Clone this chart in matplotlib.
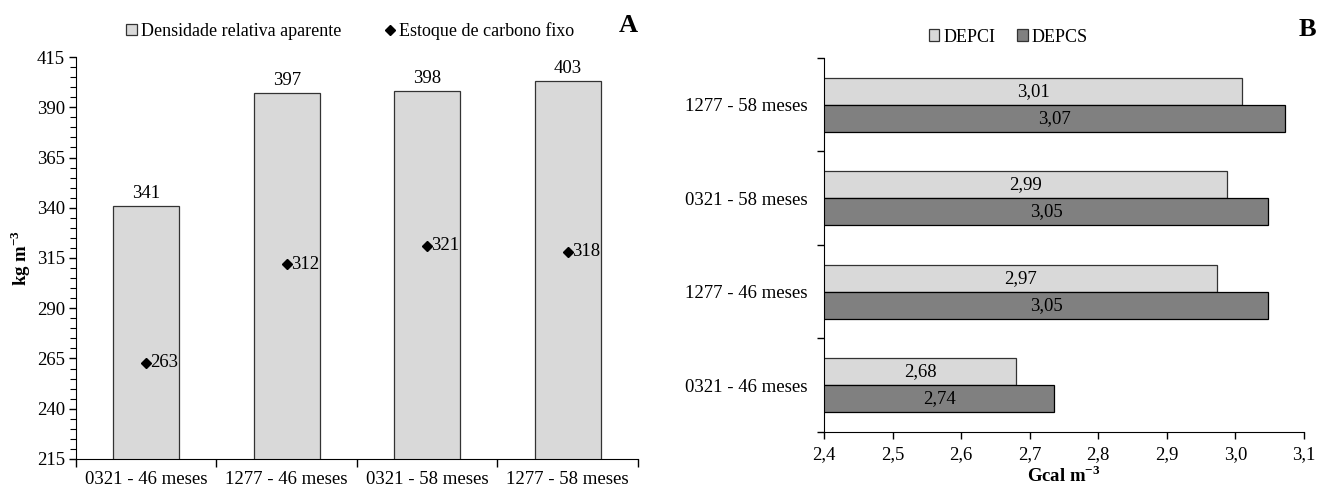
import numpy as np
import matplotlib.pyplot as plt
from matplotlib.ticker import FixedLocator, MultipleLocator, NullFormatter
from matplotlib.lines import Line2D
from matplotlib.patches import Patch

plt.rcParams['font.family'] = ['Liberation Serif', 'DejaVu Serif']
plt.rcParams['mathtext.fontset'] = 'custom'
plt.rcParams['mathtext.rm'] = 'Liberation Serif'
plt.rcParams['mathtext.bf'] = 'Liberation Serif:bold'

# panel A data
cats_a = ['0321 - 46 meses', '1277 - 46 meses', '0321 - 58 meses', '1277 - 58 meses']
densidade = [341, 397, 398, 403]
carbono = [263, 312, 321, 318]
yticks_a = [215, 240, 265, 290, 315, 340, 365, 390, 415]

# panel B data (bottom to top)
cats_b = ['0321 - 46 meses', '1277 - 46 meses', '0321 - 58 meses', '1277 - 58 meses']
depci = [2.68, 2.973, 2.988, 3.01]
depcs = [2.736, 3.048, 3.048, 3.073]
xticks_b = [2.4, 2.5, 2.6, 2.7, 2.8, 2.9, 3.0, 3.1]

light = '#d9d9d9'
dark = '#808080'
fs = 13.5
fs_leg = 13

fig = plt.figure(figsize=(13.17, 4.86), dpi=100)

# ---------------- A ----------------
ax = fig.add_axes([0.0577, 0.0556, 0.4267, 0.8271])
x = np.arange(len(cats_a))
ax.bar(x, densidade, width=0.47, bottom=0, color=light, edgecolor='#333333', linewidth=0.9, zorder=2)
ax.plot(x, carbono, linestyle='none', marker='D', markersize=5, color='black', zorder=3)
for xi, v in zip(x, densidade):
    ax.annotate(str(v), (xi, v), xytext=(0, 3), textcoords='offset points',
                ha='center', va='bottom', fontsize=fs)
for xi, v in zip(x, carbono):
    ax.annotate(str(v), (xi, v), xytext=(3, 0), textcoords='offset points',
                ha='left', va='center', fontsize=fs)

ax.set_xlim(-0.5, len(cats_a) - 0.5)
ax.set_ylim(215, 415)
ax.yaxis.set_major_locator(FixedLocator(yticks_a))
ax.yaxis.set_minor_locator(MultipleLocator(5))
ax.xaxis.set_major_locator(FixedLocator(x))
ax.set_xticklabels(cats_a, fontsize=fs)
ax.xaxis.set_minor_locator(FixedLocator(np.arange(-0.5, len(cats_a), 1.0)))
ax.tick_params(axis='x', which='major', length=0, pad=9)
ax.tick_params(axis='x', which='minor', length=6, width=1, direction='out')
ax.tick_params(axis='y', which='major', length=5, width=1, labelsize=fs, pad=3)
ax.tick_params(axis='y', which='minor', length=4, width=0.8)
for s in ['top', 'right']:
    ax.spines[s].set_visible(False)
ax.set_ylabel(r'kg m$^{\mathbf{-3}}$', fontsize=fs, fontweight='bold', labelpad=3)

handles_a = [Patch(facecolor=light, edgecolor='#333333', linewidth=0.9),
             Line2D([], [], linestyle='none', marker='D', markersize=5, color='black')]
fig.legend(handles_a, ['Densidade relativa aparente', 'Estoque de carbono fixo'],
           loc='center', bbox_to_anchor=(350 / 1317, 1 - 31 / 486), ncol=2, frameon=False,
           fontsize=fs_leg, handlelength=0.6, handleheight=0.6, handletextpad=0.2, columnspacing=2.4)
fig.text(628 / 1317, 1 - 25 / 486, 'A', fontsize=19, fontweight='bold', ha='center', va='center')

# ---------------- B ----------------
bx = fig.add_axes([0.6257, 0.1111, 0.3644, 0.7696])
y = np.arange(len(cats_b))
h = 0.29
bx.barh(y + h / 2, depci, height=h, left=0, color=light, edgecolor='#333333', linewidth=0.9, zorder=2)
bx.barh(y - h / 2, depcs, height=h, left=0, color=dark, edgecolor='black', linewidth=0.9, zorder=2)
for yi, v in zip(y, depci):
    bx.text((2.4 + v) / 2, yi + h / 2, f'{v:.2f}'.replace('.', ','), ha='center', va='center', fontsize=fs)
for yi, v in zip(y, depcs):
    bx.text((2.4 + v) / 2, yi - h / 2, f'{v:.2f}'.replace('.', ','), ha='center', va='center', fontsize=fs)

bx.set_xlim(2.4, 3.1)
bx.set_ylim(-0.5, len(cats_b) - 0.5)
bx.set_xticks(xticks_b)
bx.set_xticklabels([f'{t:.1f}'.replace('.', ',') for t in xticks_b], fontsize=fs)
bx.yaxis.set_major_locator(FixedLocator(y))
bx.set_yticklabels(cats_b, fontsize=fs)
bx.yaxis.set_minor_locator(FixedLocator(np.arange(-0.5, len(cats_b), 1.0)))
bx.yaxis.set_minor_formatter(NullFormatter())
bx.tick_params(axis='y', which='major', length=0, pad=12)
bx.tick_params(axis='y', which='minor', length=5, width=1)
bx.tick_params(axis='x', which='major', length=5, width=1, pad=5)
for s in ['top', 'right']:
    bx.spines[s].set_visible(False)
bx.set_xlabel(r'Gcal m$^{\mathbf{-3}}$', fontsize=fs, fontweight='bold', labelpad=2)

handles_b = [Patch(facecolor=light, edgecolor='#333333', linewidth=0.9),
             Patch(facecolor=dark, edgecolor='#333333', linewidth=0.9)]
fig.legend(handles_b, ['DEPCI', 'DEPCS'], loc='center', bbox_to_anchor=(1008 / 1317, 1 - 37 / 486),
           ncol=2, frameon=False, fontsize=fs_leg, handlelength=0.6, handleheight=0.6,
           handletextpad=0.2, columnspacing=1.2)
fig.text(1307 / 1317, 1 - 29 / 486, 'B', fontsize=19, fontweight='bold', ha='center', va='center')

fig.savefig('out.png', dpi=100)
